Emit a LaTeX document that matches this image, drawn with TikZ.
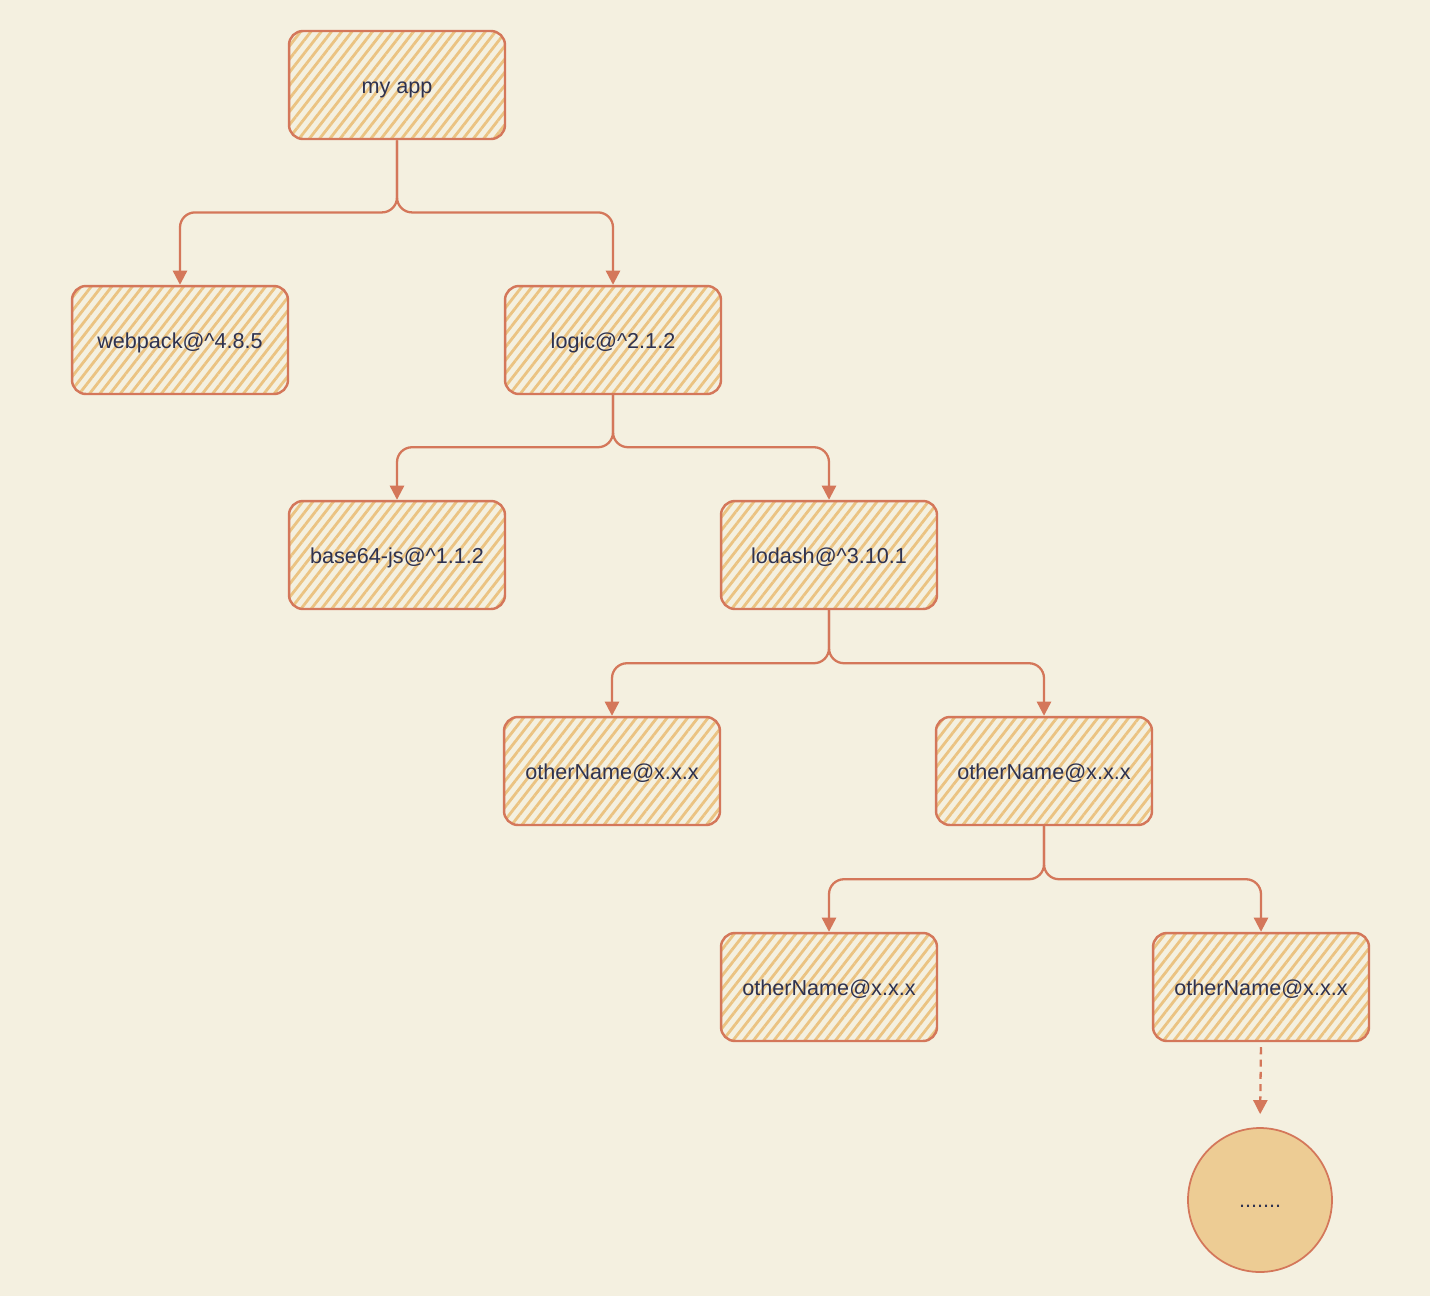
\documentclass[tikz,border=0pt]{standalone}
\usepackage{fontspec}
\setmainfont{Liberation Sans}
\usetikzlibrary{patterns.meta,arrows.meta}
\definecolor{paper}{HTML}{F4F0E0}
\definecolor{edge}{HTML}{D4775A}
\definecolor{hatch}{HTML}{EBC382}
\definecolor{ink}{HTML}{2E3250}
\definecolor{dotfill}{HTML}{EDCC94}
\tikzset{
  pkg/.style={draw=edge, line width=1.4pt, rounded corners=0.28cm,
    minimum width=4.32cm, minimum height=2.16cm, text=ink,
    text height=1.2em, text depth=0.2em,
    font=\fontsize{12.3}{14}\selectfont,
    pattern={Lines[angle=52,distance=4.6pt,line width=1.6pt]}, pattern color=hatch},
  more/.style={circle, draw=edge, line width=1pt, fill=dotfill,
    minimum size=2.88cm, text=ink, text height=1.05em, text depth=0.2em,
    font=\fontsize{12.3}{14}\selectfont},
  dep/.style={draw=edge, line width=1.3pt, rounded corners=0.3cm,
    -{Triangle[width=8pt,length=8pt]}}
}
\begin{document}
\begin{tikzpicture}[x=0.02cm,y=-0.02cm]
      \fill[paper] (0,0) rectangle (1430,1296);
      \useasboundingbox (0,0) rectangle (1430,1296);
      \draw
        (397,85) node[pkg] (app){my app}
        (180,340) node[pkg] (webpack){webpack@\textasciicircum 4.8.5}
        (613,340) node[pkg] (logic){logic@\textasciicircum 2.1.2}
        (397,555) node[pkg] (base64){base64-js@\textasciicircum 1.1.2}
        (829,555) node[pkg] (lodash){lodash@\textasciicircum 3.10.1}
        (612,771) node[pkg] (other1){otherName@x.x.x}
        (1044,771) node[pkg] (other2){otherName@x.x.x}
        (829,987) node[pkg] (other3){otherName@x.x.x}
        (1261,987) node[pkg] (other4){otherName@x.x.x}
        (1260,1200) node[more] (dots){.......};
      \begin{scope}[dep]
        \draw (app.south) -- ++(0,72) -| (webpack.north);
        \draw (app.south) -- ++(0,72) -| (logic.north);
        \draw (logic.south) -- ++(0,52) -| (base64.north);
        \draw (logic.south) -- ++(0,52) -| (lodash.north);
        \draw (lodash.south) -- ++(0,53) -| (other1.north);
        \draw (lodash.south) -- ++(0,53) -| (other2.north);
        \draw (other2.south) -- ++(0,53) -| (other3.north);
        \draw (other2.south) -- ++(0,53) -| (other4.north);
        \draw[dash pattern=on 4pt off 3pt, shorten >=0.26cm, shorten <=0.1cm] (other4.south) -- (dots.north);
      \end{scope}
    \end{tikzpicture}
\end{document}
